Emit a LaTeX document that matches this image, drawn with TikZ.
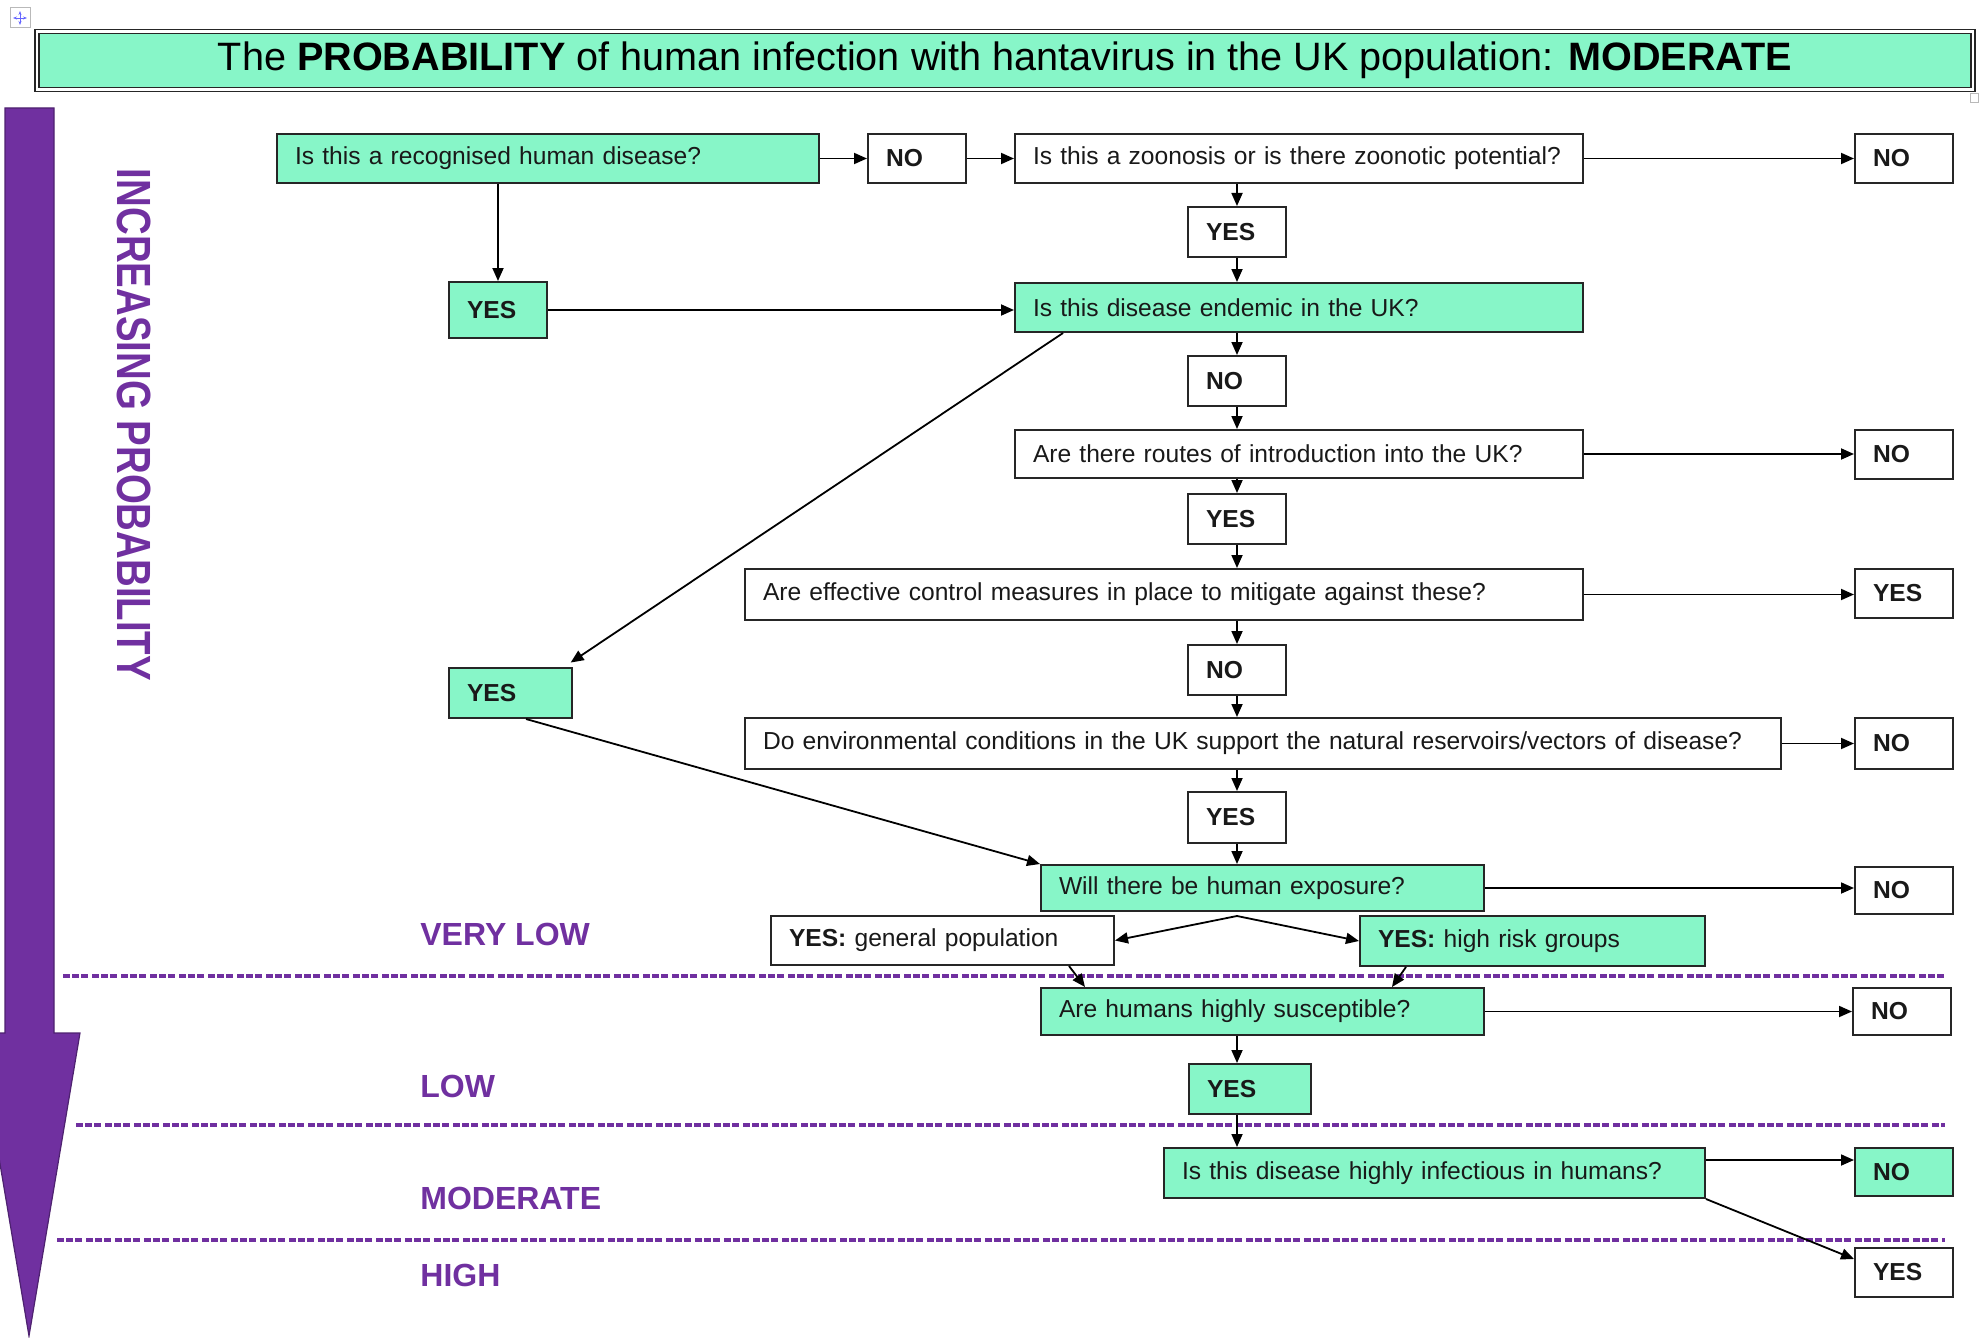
\documentclass[tikz,border=0pt]{standalone}
\usepackage{fontspec}
\setmainfont{Liberation Sans}
\usepackage{graphicx}
\usetikzlibrary{arrows.meta}

\definecolor{mint}{RGB}{135,246,200}
\definecolor{plum}{RGB}{112,48,160}

\tikzset{
  qbox/.style={draw=black!85, fill=white, line width=1pt, anchor=north west,
    inner xsep=9pt, inner ysep=0pt, minimum height=24.5pt, align=left,
    text=black!90, font=\fontsize{12.3}{14}\selectfont},
  gbox/.style={qbox, fill=mint},
  yn/.style={text width=31pt, font=\fontsize{12.3}{14}\selectfont\bfseries},
  arr/.style={-{Triangle[length=6.5pt,width=5.5pt]}, line width=0.9pt},
  lvl/.style={anchor=west, inner sep=0pt, text=plum, font=\fontsize{16}{18}\selectfont\bfseries},
  band/.style={plum, line width=1.6pt, dash pattern=on 3.5pt off 1pt on 3.5pt off 1pt on 3.5pt off 2pt}
}

\begin{document}
\begin{tikzpicture}[x=0.5pt, y=-0.5pt]
  \clip (0,0) rectangle (1988,1338);

  % handles
  \draw[gray!55, line width=0.5pt] (10,8) rectangle (30,28);
  \draw[{Stealth[length=2pt]}-{Stealth[length=2pt]}, blue!60, line width=0.4pt] (20,11) -- (20,25);
  \draw[{Stealth[length=2pt]}-{Stealth[length=2pt]}, blue!60, line width=0.4pt] (13,18) -- (27,18);
  \draw[gray!55, line width=0.5pt] (1970,94) rectangle (1978,103);

  % title
  \node[draw=black!85, double, double distance=1.2pt, line width=0.7pt, fill=mint,
        minimum width=968pt, minimum height=29pt, font=\fontsize{19.8}{22}\selectfont]
        (title) at (1005,60.5)
        {The \textbf{PROBABILITY} of human infection with hantavirus in the UK population: \textbf{MODERATE}};

  % big arrow
  \filldraw[fill=plum, draw=plum!70!black, line width=0.6pt]
    (5,108) -- (54,108) -- (54,1033) -- (80,1033) -- (29,1336) -- (-22,1033) -- (5,1033) -- cycle;
  \node[rotate=-90, inner sep=0pt, text=plum, font=\fontsize{24}{26}\selectfont\bfseries]
    (incr) at (134,425) {\scalebox{0.8}[1]{INCREASING PROBABILITY}};

  % levels
  \draw[band] (63,976) -- (1945,976);
  \draw[band] (76,1125) -- (1945,1125);
  \draw[band] (57,1240) -- (1945,1240);
  \node[lvl] (vlow) at (420,934) {VERY LOW};
  \node[lvl] (low) at (420,1086) {LOW};
  \node[lvl] (moderate) at (420,1198) {MODERATE};
  \node[lvl] (high) at (420,1275) {HIGH};

  % boxes
  \node[gbox, text width=253pt] (q1) at (276,133) {Is this a recognised human disease?};
  \node[qbox, yn] (n1) at (867,133) {NO};
  \node[qbox, text width=266pt] (q2) at (1014,133) {Is this a zoonosis or is there zoonotic potential?};
  \node[qbox, yn] (n2) at (1854,133) {NO};
  \node[qbox, yn, minimum height=25pt] (y2) at (1187,206) {YES};
  \node[gbox, yn, minimum height=28pt] (y1) at (448,281) {YES};
  \node[gbox, text width=266pt] (q3) at (1014,282) {Is this disease endemic in the UK?};
  \node[qbox, yn, minimum height=25pt] (n3) at (1187,355) {NO};
  \node[qbox, text width=266pt, minimum height=24pt] (q4) at (1014,429) {Are there routes of introduction into the UK?};
  \node[qbox, yn] (n4) at (1854,429) {NO};
  \node[qbox, yn, minimum height=25pt] (y4) at (1187,493) {YES};
  \node[qbox, text width=401pt, minimum height=25.5pt] (q5) at (744,568) {Are effective control measures in place to mitigate against these?};
  \node[qbox, yn] (y5) at (1854,568) {YES};
  \node[qbox, yn, minimum height=25pt] (n5) at (1187,644) {NO};
  \node[gbox, yn, text width=43.5pt, minimum height=25pt] (y3) at (448,667) {YES};
  \node[qbox, text width=500pt, minimum height=25.5pt] (q6) at (744,717) {Do environmental conditions in the UK support the natural reservoirs/vectors of disease?};
  \node[qbox, yn, minimum height=25.5pt] (n6) at (1854,717) {NO};
  \node[qbox, yn, minimum height=25.5pt] (y6) at (1187,791) {YES};
  \node[gbox, text width=203.5pt, minimum height=23pt] (q7) at (1040,864) {Will there be human exposure?};
  \node[qbox, yn, minimum height=23.5pt] (n7) at (1854,866) {NO};
  \node[qbox, text width=153.5pt] (ygen) at (770,915) {\textbf{YES:} general population};
  \node[gbox, text width=154.5pt, minimum height=25pt] (yhigh) at (1359,915) {\textbf{YES:} high risk groups};
  \node[gbox, text width=203.5pt, minimum height=23.5pt] (q8) at (1040,987) {Are humans highly susceptible?};
  \node[qbox, yn, minimum height=23.5pt] (n8) at (1852,987) {NO};
  \node[gbox, yn, text width=43pt, minimum height=25pt] (y8) at (1188,1063) {YES};
  \node[gbox, text width=252.5pt, minimum height=25pt] (q9) at (1163,1147) {Is this disease highly infectious in humans?};
  \node[gbox, yn, minimum height=24pt] (n9) at (1854,1147) {NO};
  \node[qbox, yn] (y9) at (1854,1247) {YES};

  \coordinate (spine) at (1237,0);
  \coordinate (fork) at (1237,916);

  % connectors
  \draw[arr] (q1) -- (n1);
  \draw[arr] (n1) -- (q2);
  \draw[arr] (q2) -- (n2);
  \draw[arr] (q2.south -| y2) -- (y2);
  \draw[arr] (y2) -- (y2 |- q3.north);
  \draw[arr] (q1.south -| y1) -- (y1);
  \draw[arr] (y1) -- (y1 -| q3.west);
  \draw[arr] (q3.south -| n3) -- (n3);
  \draw[arr] (n3) -- (n3 |- q4.north);
  \draw[arr] (q4) -- (q4 -| n4.west);
  \draw[arr] (q4.south -| y4) -- (y4);
  \draw[arr] (y4) -- (y4 |- q5.north);
  \draw[arr] (q5) -- (q5 -| y5.west);
  \draw[arr] (q5.south -| n5) -- (n5);
  \draw[arr] (n5) -- (n5 |- q6.north);
  \draw[arr] (q6) -- (q6 -| n6.west);
  \draw[arr] (q6.south -| y6) -- (y6);
  \draw[arr] (y6) -- (y6 |- q7.north);
  \draw[arr] (q7) -- (q7 -| n7.west);
  \draw[arr, shorten >=4pt] ([xshift=24.5pt]q3.south west) -- ([xshift=-4.5pt]y3.north east);
  \draw[arr] ([xshift=-23.5pt]y3.south east) -- (q7.north west);
  \draw[arr] (fork) -- (ygen.east);
  \draw[arr] (fork) -- (yhigh.west);
  \draw[arr] ([xshift=-23pt]ygen.south east) -- ([xshift=22.5pt]q8.north west);
  \draw[arr] ([xshift=23.5pt]yhigh.south west) -- ([xshift=-46.5pt]q8.north east);
  \draw[arr] (q8) -- (q8 -| n8.west);
  \draw[arr] (q8.south -| spine) -- (y8.north -| spine);
  \draw[arr] (y8.south -| spine) -- (q9.north -| spine);
  \draw[arr] ([yshift=6.5pt]q9.east) -- ([yshift=6.5pt]q9.east -| n9.west);
  \draw[arr] (q9.south east) -- ([yshift=-6pt]y9.north west);
\end{tikzpicture}
\end{document}
